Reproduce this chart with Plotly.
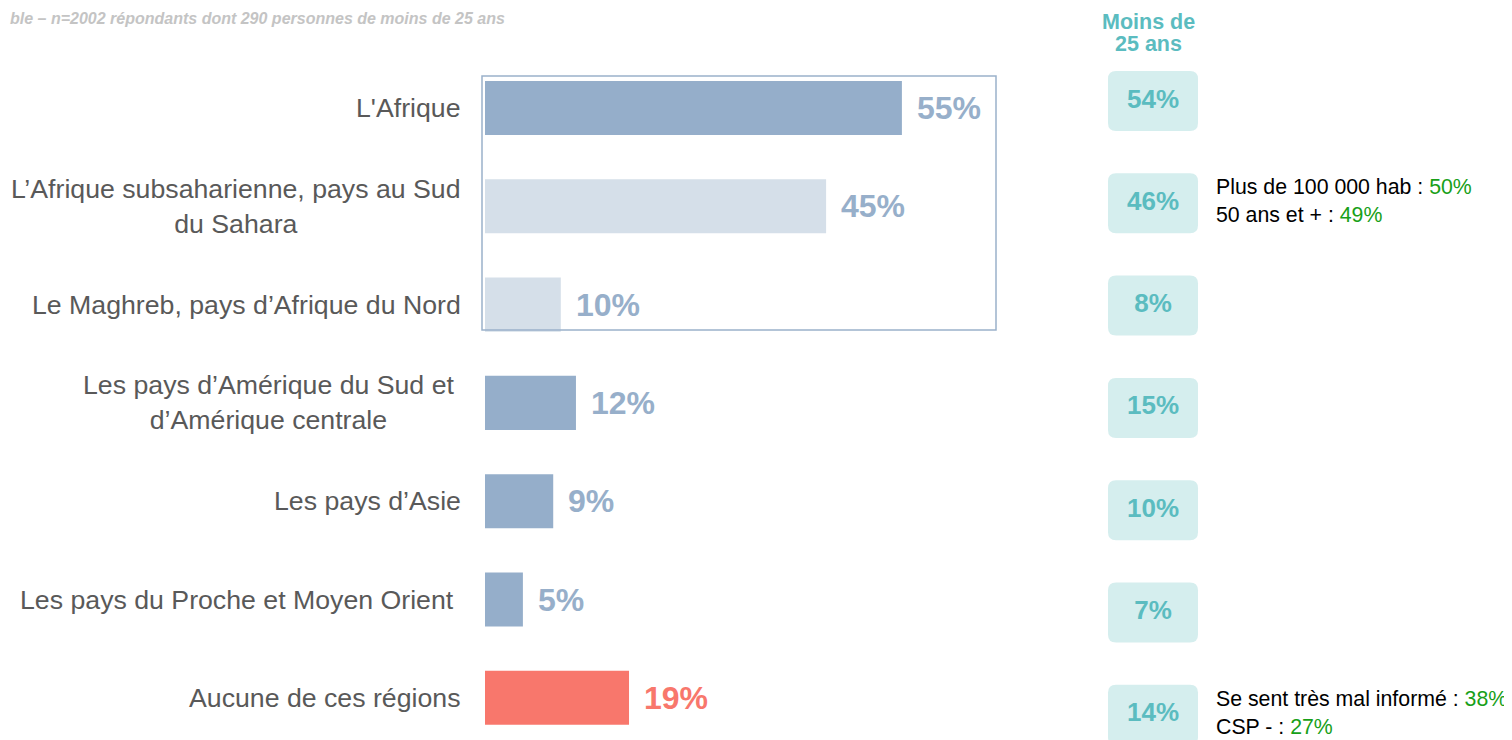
"""Bar chart: regions evoked, with the under-25 column and notable sub-groups."""

import plotly.graph_objects as go

# ---- data -------------------------------------------------------------
categories = [
    "L'Afrique",
    "L’Afrique subsaharienne, pays au Sud<br>du Sahara",
    "Le Maghreb, pays d’Afrique du Nord",
    "Les pays d’Amérique du Sud et<br>d’Amérique centrale",
    "Les pays d’Asie",
    "Les pays du Proche et Moyen Orient",
    "Aucune de ces régions",
]
total_pct = [55, 45, 10, 12, 9, 5, 19]
under25_pct = [54, 46, 8, 15, 10, 7, 14]
notes = {
    1: [("Plus de 100 000 hab", "50%"), ("50 ans et +", "49%")],
    6: [("Se sent très mal informé", "38%"), ("CSP -", "27%")],
}
subtitle = "ble – n=2002 répondants dont 290 personnes de moins de 25 ans"
column_title = ["Moins de", "25 ans"]

# ---- styling ----------------------------------------------------------
FONT = "Liberation Sans, Arial, sans-serif"
BAR_DARK = "#95aeca"
BAR_LIGHT = "#d5dfe9"
BAR_RED = "#f8776c"
LABEL_BLUE = "#97afca"
TEAL = "#5bbcc0"
TEAL_BG = "#d5eeee"
GREY = "#595959"
GREEN = "#18a018"

bar_colors = [BAR_DARK, BAR_LIGHT, BAR_LIGHT, BAR_DARK, BAR_DARK, BAR_DARK, BAR_RED]
value_colors = [LABEL_BLUE] * 6 + [BAR_RED]
label_shift = [-22, -22, -22, -29, -22, -29, -22]

# the page body adds an 8px margin, so the figure is laid out 8px smaller
OFF = 8
W, H = 1512 - OFF, 740 - OFF
PX_PER_PCT = 7.58
ZERO_PX = 485            # page pixel of the 0% bar start
PLOT_LEFT = 470          # page pixel of the plot area's left edge
PLOT_W = W - (PLOT_LEFT - OFF)
X_MIN = (PLOT_LEFT - ZERO_PX) / PX_PER_PCT
X_MAX = (1512 - ZERO_PX) / PX_PER_PCT
BOX_X = (1153 - ZERO_PX) / PX_PER_PCT
NOTE_X = (1214 - ZERO_PX) / PX_PER_PCT

ROW_PX, ROW_Y0 = 98.3, 108 - OFF      # bar rows
BOX_PX, BOX_Y0 = 102.3, 101 - OFF     # under-25 boxes

rows = list(range(len(categories)))

fig = go.Figure()
fig.add_trace(go.Bar(
    y=rows, x=total_pct,
    orientation="h",
    width=0.55,
    marker=dict(color=bar_colors, line=dict(width=0)),
    hoverinfo="skip",
    showlegend=False,
))

# under-25 rounded boxes
hw = 45 / PX_PER_PCT
hh = 30 / BOX_PX
rx = 8 / PX_PER_PCT
ry = 8 / BOX_PX
for i, v in enumerate(under25_pct):
    x0, x1 = BOX_X - hw, BOX_X + hw
    y0, y1 = i - hh, i + hh
    path = (
        f"M {x0 + rx} {y0} L {x1 - rx} {y0} Q {x1} {y0} {x1} {y0 + ry} "
        f"L {x1} {y1 - ry} Q {x1} {y1} {x1 - rx} {y1} "
        f"L {x0 + rx} {y1} Q {x0} {y1} {x0} {y1 - ry} "
        f"L {x0} {y0 + ry} Q {x0} {y0} {x0 + rx} {y0} Z"
    )
    fig.add_shape(type="path", path=path, xref="x", yref="y2",
                  fillcolor=TEAL_BG, line=dict(width=0), layer="below")

fig.add_trace(go.Scatter(
    x=[BOX_X] * len(under25_pct), y=rows,
    yaxis="y2",
    mode="text",
    text=[f"{v}%" for v in under25_pct],
    textposition="middle center",
    textfont=dict(family=FONT, size=26, color=TEAL, weight="bold"),
    hoverinfo="skip",
    showlegend=False,
))

# frame around the three Africa rows
fig.add_shape(type="rect", xref="x", yref="y",
              x0=-3 / PX_PER_PCT, x1=(996 - ZERO_PX) / PX_PER_PCT,
              y0=(76 - 108) / ROW_PX, y1=(330 - 108) / ROW_PX,
              line=dict(color="#9ab1ca", width=1.5))

# category labels
for i, cat in enumerate(categories):
    fig.add_annotation(
        x=0, y=i, xref="x", yref="y",
        text=cat, showarrow=False,
        xanchor="right", align="center", xshift=label_shift[i],
        font=dict(family=FONT, size=26.7, color=GREY),
    )

# value labels
for i, v in enumerate(total_pct):
    fig.add_annotation(
        x=v, y=i, xref="x", yref="y",
        text=f"{v}%", showarrow=False,
        xanchor="left", xshift=13,
        font=dict(family=FONT, size=32, color=value_colors[i], weight="bold"),
    )

# side notes
for i, items in notes.items():
    txt = "<br>".join(
        f"{k} : <span style='color:{GREEN}'>{p}</span>" for k, p in items
    )
    fig.add_annotation(
        x=NOTE_X, y=i, xref="x", yref="y2",
        text=txt, showarrow=False,
        xanchor="left", align="left", yshift=2,
        font=dict(family=FONT, size=21.3, color="#000000"),
    )

# column header, one annotation per line
fig.add_annotation(
    x=BOX_X - 0.6, y=1, xref="x", yref="paper",
    text=f"<b>{column_title[0]}</b>", showarrow=False,
    xanchor="center", yanchor="top",
    font=dict(family=FONT, size=21.5, color=TEAL),
)
fig.add_annotation(
    x=BOX_X - 0.6, y=1 - (44 - OFF) / H, xref="x", yref="paper",
    text=f"<b>{column_title[1]}</b>", showarrow=False,
    xanchor="center", yanchor="middle",
    font=dict(family=FONT, size=21.5, color=TEAL),
)

# subtitle at the top-left edge
fig.add_annotation(
    x=-(PLOT_LEFT - OFF) / PLOT_W, y=1, xref="paper", yref="paper",
    text=f"<b><i>{subtitle}</i></b>", showarrow=False,
    xanchor="left", yanchor="top",
    font=dict(family=FONT, size=16, color="#c4c4c4"),
)

fig.update_layout(
    width=W, height=H,
    margin=dict(l=PLOT_LEFT - OFF, r=0, t=0, b=0, pad=0),
    paper_bgcolor="white",
    plot_bgcolor="white",
    showlegend=False,
    xaxis=dict(range=[X_MIN, X_MAX], visible=False, fixedrange=True),
    yaxis=dict(range=[(H - ROW_Y0) / ROW_PX, -ROW_Y0 / ROW_PX],
               visible=False, fixedrange=True),
    yaxis2=dict(range=[(H - BOX_Y0) / BOX_PX, -BOX_Y0 / BOX_PX], overlaying="y",
                visible=False, fixedrange=True),
)

fig.write_html("out.html")
